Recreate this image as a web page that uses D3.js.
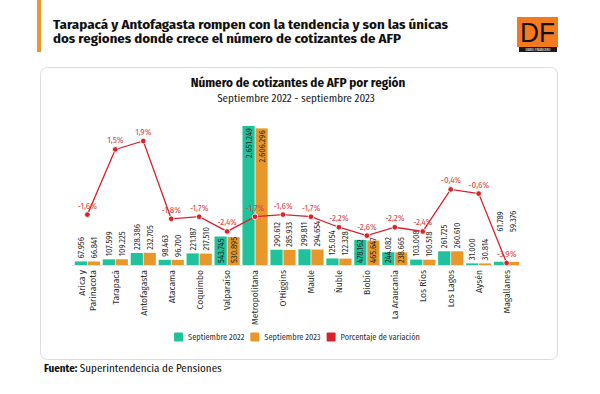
<!DOCTYPE html>
<html>
<head>
<meta charset="utf-8">
<script src="https://cdn.jsdelivr.net/npm/d3@7"></script>
<style>
  body { margin: 0; background: #fff; }
  svg text { font-family: "Fira Sans Condensed", "Liberation Sans Narrow", "DejaVu Sans Condensed", "Roboto Condensed", Roboto, sans-serif; }
</style>
</head>
<body>
<div id="chart"></div>
<script>
// Data
const regions = ['Arica y Parinacota', 'Tarapacá', 'Antofagasta', 'Atacama', 'Coquimbo', 'Valparaíso',
  'Metropolitana', "O'Higgins", 'Maule', 'Ñuble', 'Biobío', 'La Araucanía', 'Los Ríos', 'Los Lagos',
  'Aysén', 'Magallanes'];
const sep2022 = [67956, 107599, 228386, 98463, 221187, 543745, 2651249, 290612, 299811, 125054,
  478162, 244082, 103008, 261725, 31000, 61789];
const sep2023 = [66841, 109225, 232705, 96700, 217510, 530895, 2606296, 285933, 294654, 122328,
  465647, 238665, 100518, 260610, 30814, 59376];
const variation = [-1.6, 1.5, 1.9, -1.8, -1.7, -2.4, -1.7, -1.6, -1.7, -2.2, -2.6, -2.2, -2.4, -0.4,
  -0.6, -3.9];
const seriesNames = ['Septiembre 2022', 'Septiembre 2023', 'Porcentaje de variación'];

// Colours
const green = '#1fc29b';
const orange = '#e9962a';
const red = '#d8232e';

// where a value label goes when it doesn't sit on top of its bar
const labelPlace = { 'Valparaíso': 'inBottom', 'Biobío': 'inBottom', 'La Araucanía': 'inBottom',
  'Metropolitana': 'inTop', 'Magallanes': 'lift' };

const W = 600, H = 394;
const fmt = d3.format(',');
const num = v => fmt(v).replace(/,/g, '.');
const pct = v => (v.toFixed(1) + '%').replace('.', ',');

const svg = d3.select('#chart').append('svg')
  .attr('width', W)
  .attr('height', H);

// Header
svg.append('rect').attr('x', 37).attr('y', 0).attr('width', 4).attr('height', 52).attr('fill', '#ec9a25');

const titleLines = [
  ['Tarapacá y Antofagasta rompen con la tendencia y son las únicas', 28.5, 395],
  ['dos regiones donde crece el número de cotizantes de AFP', 43, 348]
];
titleLines.forEach(([t, y, w]) => {
  svg.append('text')
    .attr('x', 53).attr('y', y)
    .attr('font-size', 13).attr('font-weight', 700).attr('fill', '#111')
    .attr('textLength', w).attr('lengthAdjust', 'spacingAndGlyphs')
    .text(t);
});

// DF logo
const logo = svg.append('g').attr('transform', 'translate(517,17)');
logo.append('rect').attr('width', 41).attr('height', 30).attr('fill', '#f47a20');
logo.append('rect').attr('x', 2).attr('y', 30).attr('width', 38).attr('height', 5).attr('fill', '#1a1a1a');
logo.append('text').attr('x', 3).attr('y', 24.5).attr('font-size', 27)
  .style('font-family', 'Liberation Sans, Arial, sans-serif')
  .attr('fill', '#111').attr('textLength', 35).attr('lengthAdjust', 'spacingAndGlyphs').text('DF');
logo.append('text').attr('x', 21).attr('y', 34.3).attr('font-size', 3.2).attr('text-anchor', 'middle')
  .attr('fill', '#fff').text('DIARIO FINANCIERO');

// Card
svg.append('rect')
  .attr('x', 40.5).attr('y', 67.5).attr('width', 517).attr('height', 292)
  .attr('rx', 7).attr('fill', '#fff').attr('stroke', '#dcdcdc');

svg.append('text').attr('x', 298).attr('y', 87).attr('text-anchor', 'middle')
  .attr('font-size', 13).attr('font-weight', 700).attr('fill', '#111')
  .text('Número de cotizantes de AFP por región');
svg.append('text').attr('x', 296).attr('y', 102).attr('text-anchor', 'middle')
  .attr('font-size', 11).attr('fill', '#222')
  .text('Septiembre 2022 - septiembre 2023');

// Scales
const x = d3.scaleBand().domain(regions).range([72, 522]).paddingInner(0.1).paddingOuter(0.1);
const x1 = d3.scaleBand().domain([0, 1]).range([0, x.bandwidth()]).paddingInner(0.06);
const y = d3.scaleLinear().domain([0, d3.max(sep2022)]).range([265, 126]);
const y2 = d3.scaleLinear().domain([d3.min(variation), d3.max(variation)]).range([263, 141]);

// Baseline
svg.append('line').attr('x1', 72).attr('x2', 522).attr('y1', y(0) + 0.5).attr('y2', y(0) + 0.5)
  .attr('stroke', '#e3e3e3');

// Bars
const groups = svg.append('g').selectAll('g')
  .data(regions)
  .join('g')
  .attr('transform', d => `translate(${x(d)},0)`);

[sep2022, sep2023].forEach((vals, s) => {
  groups.append('rect')
    .attr('x', x1(s))
    .attr('y', (d, i) => y(vals[i]))
    .attr('width', x1.bandwidth())
    .attr('height', (d, i) => y(0) - y(vals[i]))
    .attr('fill', s === 0 ? green : orange);

  groups.append('text')
    .attr('font-size', 8.5)
    .attr('fill', '#2b2b2b')
    .attr('dy', '0.35em')
    .attr('text-anchor', d => labelPlace[d] === 'inTop' ? 'end' : 'start')
    .attr('transform', (d, i) => {
      const cx = x1(s) + x1.bandwidth() / 2;
      const top = y(vals[i]);
      let ly = top - 3;
      if (labelPlace[d] === 'inBottom') ly = y(0) - 2;
      if (labelPlace[d] === 'inTop') ly = top + 2;
      if (labelPlace[d] === 'lift') ly = top - 30;
      return `translate(${cx},${ly}) rotate(-90)`;
    })
    .text((d, i) => num(vals[i]));
});

// X axis labels
const xl = svg.append('g').selectAll('text')
  .data(regions)
  .join('text')
  .attr('font-size', 9.5)
  .attr('fill', '#333')
  .attr('text-anchor', 'end')
  .attr('transform', d => `translate(${x(d) + x.bandwidth() / 2},270) rotate(-90)`);
xl.each(function (d) {
  const el = d3.select(this);
  if (d === 'Arica y Parinacota') {
    el.append('tspan').attr('x', 0).attr('dy', '-0.2em').text('Arica y');
    el.append('tspan').attr('x', 0).attr('dy', '1.1em').text('Parinacota');
  } else {
    el.attr('dy', '0.35em').text(d);
  }
});

// Variation line
const pts = regions.map((d, i) => [x(d) + x.bandwidth() / 2, y2(variation[i])]);
svg.append('path')
  .attr('d', d3.line()(pts))
  .attr('fill', 'none')
  .attr('stroke', red)
  .attr('stroke-width', 1.3);

svg.append('g').selectAll('circle')
  .data(pts)
  .join('circle')
  .attr('cx', d => d[0]).attr('cy', d => d[1]).attr('r', 2.8)
  .attr('fill', red).attr('stroke', '#fff').attr('stroke-width', 0.8);

svg.append('g').selectAll('text')
  .data(pts)
  .join('text')
  .attr('x', d => d[0]).attr('y', d => d[1] - 6)
  .attr('text-anchor', 'middle')
  .attr('font-size', 9)
  .attr('fill', '#d9474c')
  .text((d, i) => pct(variation[i]));

// Legend
const legend = svg.append('g');
let lx = 0;
[green, orange, red].forEach((c, i) => {
  const g = legend.append('g').attr('transform', `translate(${lx},0)`);
  g.append('rect').attr('y', -4.5).attr('width', 9).attr('height', 9).attr('rx', 1).attr('fill', c);
  const t = g.append('text').attr('x', 14).attr('dy', '0.35em').attr('font-size', 8.3)
    .attr('fill', '#333').text(seriesNames[i]);
  lx += 14 + t.node().getComputedTextLength() + 6;
});
legend.attr('transform', `translate(${297 - (lx - 6) / 2},337)`);

// Source
const src = svg.append('text').attr('x', 44).attr('y', 372).attr('font-size', 11).attr('fill', '#111');
src.append('tspan').attr('font-weight', 700).text('Fuente:');
src.append('tspan').text('  Superintendencia de Pensiones');
</script>
</body>
</html>
